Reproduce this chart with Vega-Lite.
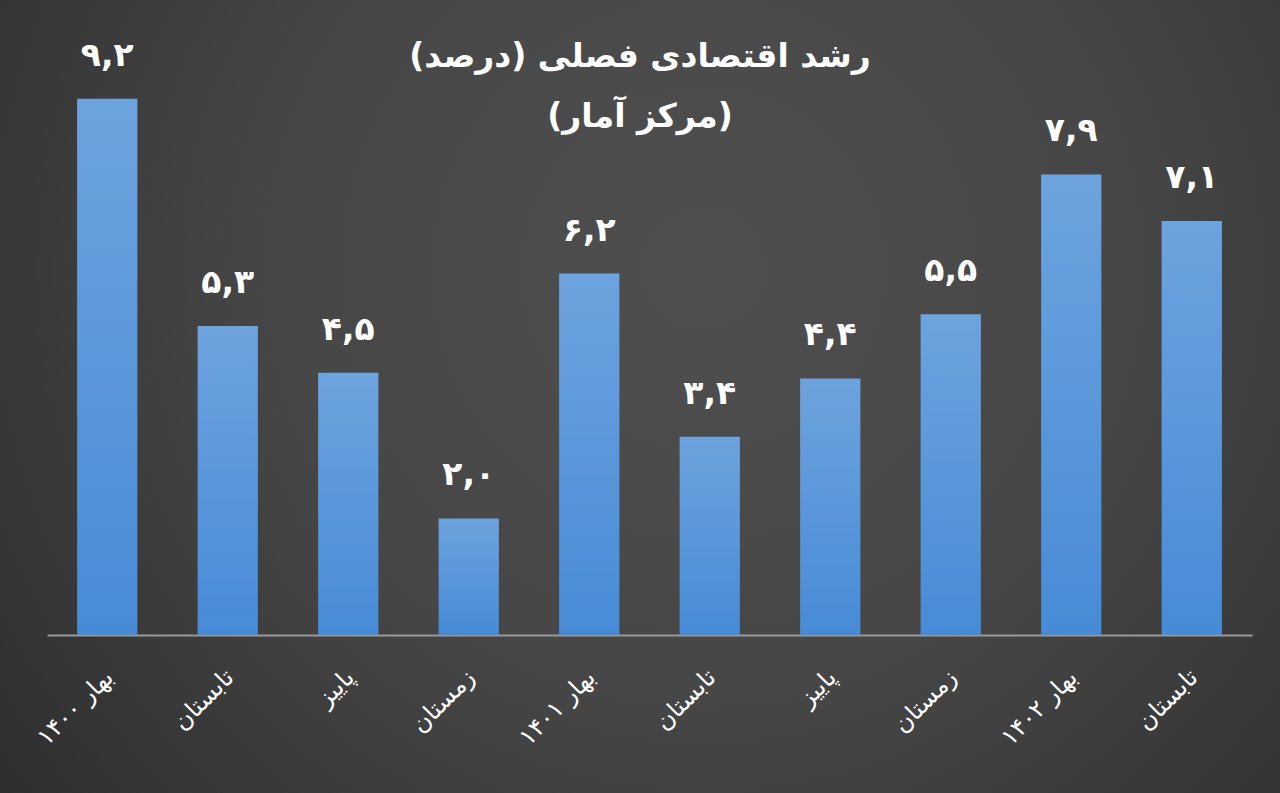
{
  "$schema": "https://vega.github.io/schema/vega-lite/v6.json",
  "width": 1280,
  "height": 793,
  "autosize": {"type": "none"},
  "padding": 0,
  "background": "#2b2b2b",
  "title": {
    "text": "‏رشد اقتصادی فصلی (درصد)‏",
    "subtitle": "‏(مرکز آمار)‏",
    "color": "white",
    "subtitleColor": "white",
    "font": "DejaVu Sans",
    "subtitleFont": "DejaVu Sans",
    "fontSize": 33,
    "subtitleFontSize": 33,
    "fontWeight": "bold",
    "subtitleFontWeight": "bold",
    "anchor": "middle",
    "offset": -134,
    "subtitlePadding": 27
  },
  "data": {
    "values": [
      {"period": "بهار ۱۴۰۰", "value": 9.2, "label": "۹,۲"},
      {"period": "تابستان ۱۴۰۰", "value": 5.3, "label": "۵,۳"},
      {"period": "پاییز ۱۴۰۰", "value": 4.5, "label": "۴,۵"},
      {"period": "زمستان ۱۴۰۰", "value": 2.0, "label": "۲,۰"},
      {"period": "بهار ۱۴۰۱", "value": 6.2, "label": "۶,۲"},
      {"period": "تابستان ۱۴۰۱", "value": 3.4, "label": "۳,۴"},
      {"period": "پاییز ۱۴۰۱", "value": 4.4, "label": "۴,۴"},
      {"period": "زمستان ۱۴۰۱", "value": 5.5, "label": "۵,۵"},
      {"period": "بهار ۱۴۰۲", "value": 7.9, "label": "۷,۹"},
      {"period": "تابستان ۱۴۰۲", "value": 7.1, "label": "۷,۱"}
    ]
  },
  "encoding": {
    "x": {
      "field": "period",
      "type": "nominal",
      "sort": null,
      "scale": {"range": [47, 1252], "paddingInner": 0.5, "paddingOuter": 0.25},
      "axis": {
        "title": null,
        "offset": -158,
        "labelExpr": "indexof(datum.label, 'بهار') == 0 ? datum.label : split(datum.label, ' ')[0]",
        "labelAngle": -45,
        "labelColor": "white",
        "labelFont": "DejaVu Sans",
        "labelFontSize": 24,
        "labelPadding": 30,
        "labelOffset": -6,
        "labelOverlap": false,
        "labelLimit": 300,
        "ticks": false,
        "domainColor": "#9a9a9a",
        "domainWidth": 2
      }
    },
    "y": {
      "field": "value",
      "type": "quantitative",
      "scale": {"domain": [0, 10], "range": [635, 52]},
      "axis": null
    }
  },
  "layer": [
    {
      "mark": {
        "type": "bar",
        "color": {
          "gradient": "linear",
          "x1": 0, "y1": 0, "x2": 0, "y2": 1,
          "stops": [
            {"offset": 0, "color": "#6da3de"},
            {"offset": 1, "color": "#478bd6"}
          ]
        }
      }
    },
    {
      "mark": {
        "type": "text",
        "font": "DejaVu Sans",
        "fontSize": 33,
        "fontWeight": "bold",
        "color": "white",
        "baseline": "alphabetic",
        "dy": -33
      },
      "encoding": {"text": {"field": "label"}}
    }
  ],
  "config": {
    "view": {
      "stroke": null,
      "fill": {
        "gradient": "radial",
        "x1": 0.55, "y1": 0.4, "r1": 0,
        "x2": 0.55, "y2": 0.4, "r2": 0.75,
        "stops": [
          {"offset": 0, "color": "#4f4f4f"},
          {"offset": 0.45, "color": "#464646"},
          {"offset": 1, "color": "#2a2a2a"}
        ]
      }
    }
  }
}
